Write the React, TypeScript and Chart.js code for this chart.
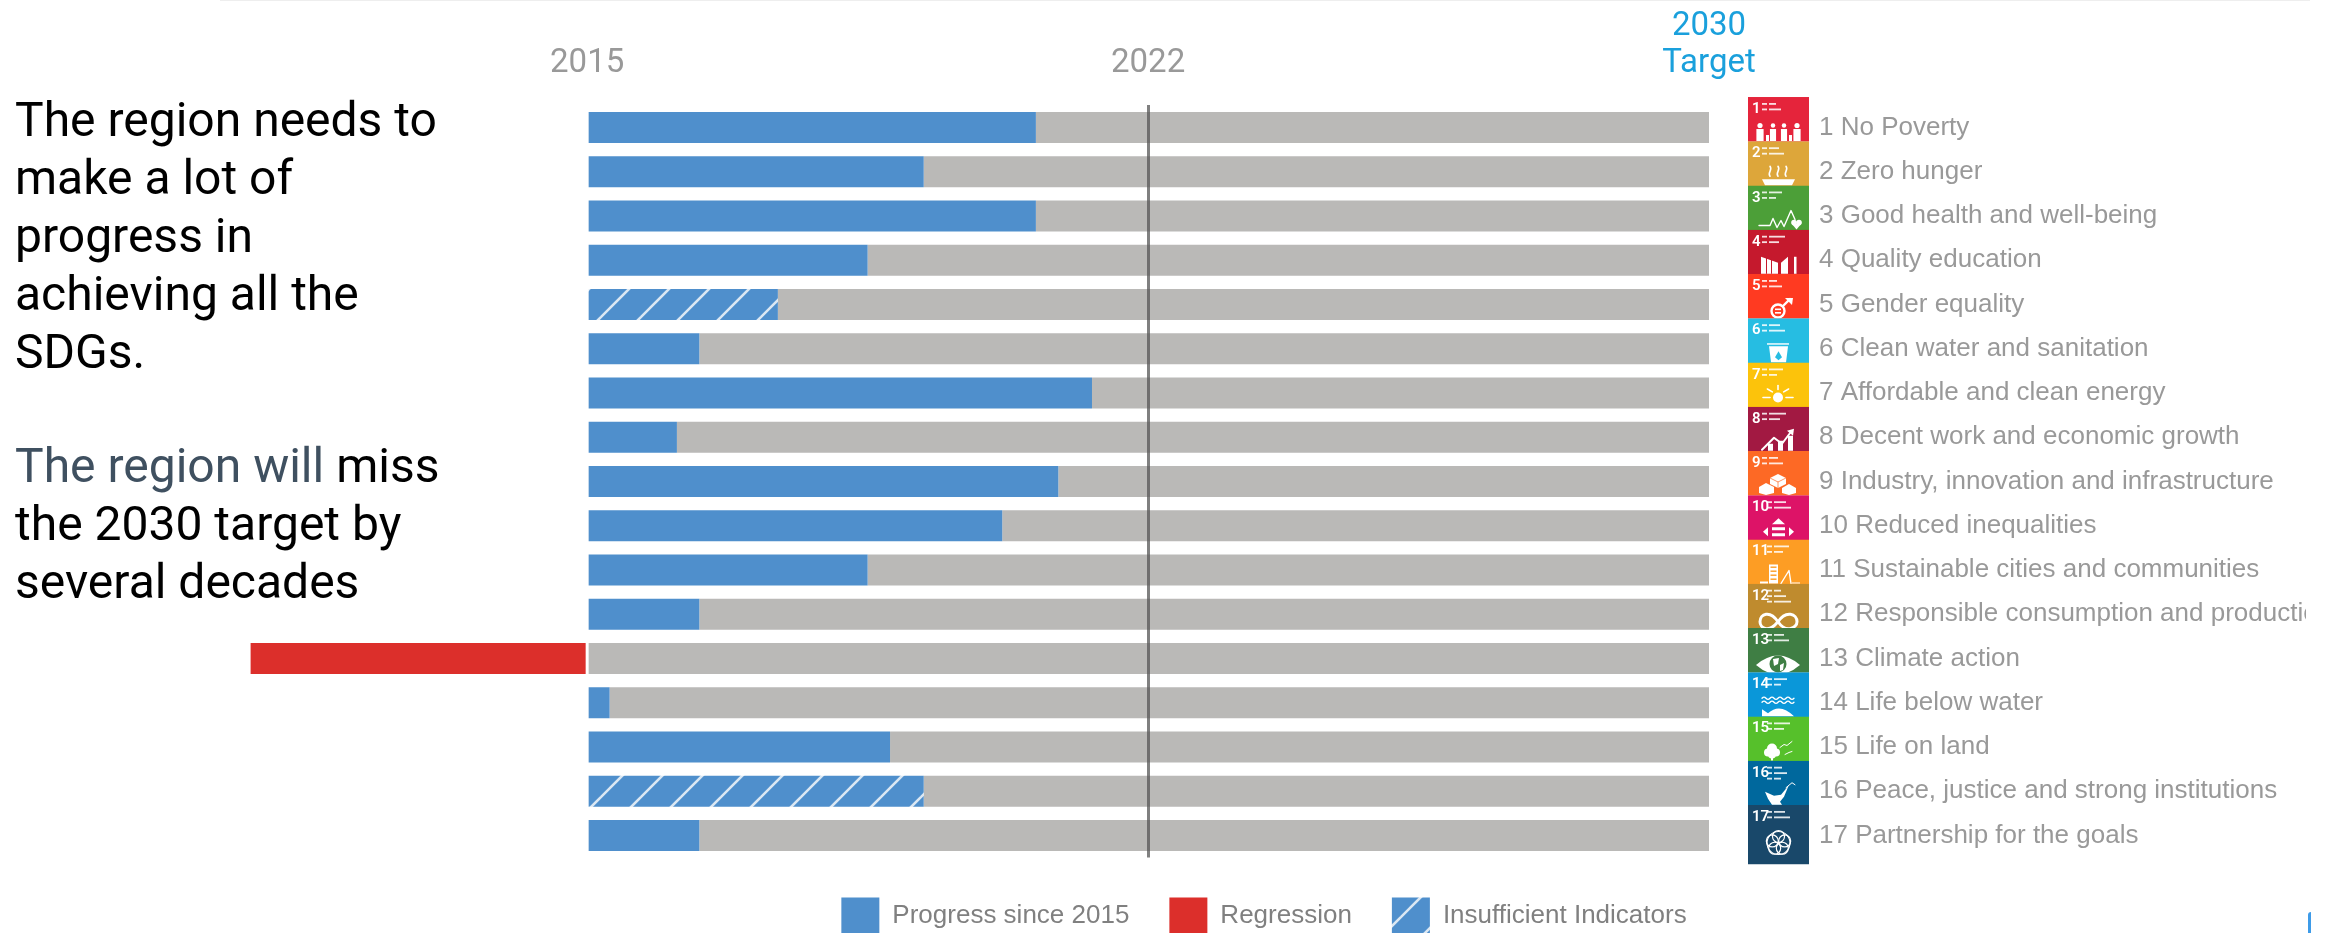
import React, { useEffect, useRef } from "react";
import { Chart, registerables } from "chart.js";

Chart.register(...registerables);

const goals = [
  "1 No Poverty",
  "2 Zero hunger",
  "3 Good health and well-being",
  "4 Quality education",
  "5 Gender equality",
  "6 Clean water and sanitation",
  "7 Affordable and clean energy",
  "8 Decent work and economic growth",
  "9 Industry, innovation and infrastructure",
  "10 Reduced inequalities",
  "11 Sustainable cities and communities",
  "12 Responsible consumption and production",
  "13 Climate action",
  "14 Life below water",
  "15 Life on land",
  "16 Peace, justice and strong institutions",
  "17 Partnership for the goals",
];
const progress = [40, 30, 40, 25, 0, 10, 45, 8, 42, 37, 25, 10, 0, 2, 27, 0, 10];
const regression = [0, 0, 0, 0, 0, 0, 0, 0, 0, 0, 0, 0, -30, 0, 0, 0, 0];
const insufficient = [0, 0, 0, 0, 17, 0, 0, 0, 0, 0, 0, 0, 0, 0, 0, 30, 0];
const remaining = [60, 70, 60, 75, 83, 90, 55, 92, 58, 63, 75, 90, 100, 98, 73, 70, 90];
const tickValues = [0, 50, 100];
const tickLabels: (string | string[])[] = ["2015", "2022", ["2030", "Target"]];
const tileColors = [
  "#E5243B", "#DDA63A", "#4C9F38", "#C5192D", "#FF3A21", "#26BDE2", "#FCC30B", "#A21942", "#FD6925",
  "#DD1367", "#FD9D24", "#BF8B2E", "#3F7E44", "#0A97D9", "#56C02B", "#00689D", "#19486A",
];
const captionRows = [2, 2, 2, 2, 2, 2, 2, 2, 2, 2, 2, 3, 2, 2, 2, 3, 2];

const BLUE = "#4F8FCC";
const RED = "#DC2F2B";
const GREY = "#BAB9B7";

function makeHatch(): CanvasPattern | string {
  const c = document.createElement("canvas");
  c.width = 40;
  c.height = 40;
  const g = c.getContext("2d");
  if (!g) return BLUE;
  g.fillStyle = BLUE;
  g.fillRect(0, 0, 40, 40);
  g.strokeStyle = "#DCE8F3";
  g.lineWidth = 2.6;
  for (const k of [-2, 38, 78]) {
    g.beginPath();
    g.moveTo(k + 10, -10);
    g.lineTo(k - 50, 50);
    g.stroke();
  }
  return g.createPattern(c, "repeat") ?? BLUE;
}

type G = CanvasRenderingContext2D;
function circle(g: G, x: number, y: number, r: number, fill = true) {
  g.beginPath();
  g.arc(x, y, r, 0, Math.PI * 2);
  if (fill) g.fill();
  else g.stroke();
}
function poly(g: G, pts: number[], fill = true) {
  g.beginPath();
  g.moveTo(pts[0], pts[1]);
  for (let i = 2; i < pts.length; i += 2) g.lineTo(pts[i], pts[i + 1]);
  if (fill) {
    g.closePath();
    g.fill();
  } else g.stroke();
}

const glyphs: ((g: G) => void)[] = [
  (g) => {
    for (const [x, s] of [[12, 1], [25, 0.85], [36, 0.85], [49, 1]] as number[][]) {
      circle(g, x, 28.5, 2.6 * s);
      g.fillRect(x - 3.6 * s, 32, 7.2 * s, 12);
    }
    g.fillRect(18, 38, 3, 6);
    g.fillRect(41, 38, 3, 6);
  },
  (g) => {
    poly(g, [14, 38, 47, 38, 44, 44, 17, 44]);
    g.lineWidth = 1.6;
    for (const x of [22, 30, 38]) {
      g.beginPath();
      g.moveTo(x, 35);
      g.bezierCurveTo(x - 3, 31, x + 3, 29, x, 25);
      g.stroke();
    }
  },
  (g) => {
    g.lineWidth = 1.4;
    poly(g, [11, 40, 22, 40, 25, 33, 29, 42, 33, 35, 36, 41, 43, 25, 47, 34], false);
    circle(g, 46, 37, 2.8);
    circle(g, 51, 37, 2.8);
    poly(g, [43.5, 38, 53.5, 38, 48.5, 44]);
  },
  (g) => {
    poly(g, [13, 27, 30, 33, 30, 44, 13, 44]);
    poly(g, [33, 33, 40, 27, 40, 44, 33, 44]);
    g.fillRect(46, 27, 2.5, 17);
    g.fillStyle = tileColors[3];
    g.fillRect(18, 28, 1, 16);
    g.fillRect(23, 30, 1, 14);
  },
  (g) => {
    g.lineWidth = 2.4;
    circle(g, 30, 37, 6.5, false);
    g.fillRect(27, 34.5, 6, 1.6);
    g.fillRect(27, 38, 6, 1.6);
    g.beginPath();
    g.moveTo(35, 32);
    g.lineTo(42, 25);
    g.stroke();
    poly(g, [37, 24, 45, 24, 44, 31]);
  },
  (g) => {
    g.fillRect(19, 25, 22, 1.4);
    poly(g, [21, 28, 40, 28, 38, 44, 23, 44]);
    g.fillStyle = tileColors[5];
    poly(g, [30.5, 33, 34, 39, 30.5, 42, 27, 39]);
  },
  (g) => {
    circle(g, 30, 35, 5);
    g.lineWidth = 1.6;
    for (let a = Math.PI; a <= Math.PI * 2 + 0.01; a += Math.PI / 4) {
      g.beginPath();
      g.moveTo(30 + 8 * Math.cos(a), 35 + 8 * Math.sin(a));
      g.lineTo(30 + 15 * Math.cos(a), 35 + 12 * Math.sin(a));
      g.stroke();
    }
  },
  (g) => {
    g.fillRect(20, 37, 5, 7);
    g.fillRect(30, 34, 5, 10);
    g.fillRect(40, 29, 5, 15);
    g.lineWidth = 2;
    poly(g, [14, 43, 26, 31, 34, 37, 43, 25], false);
    poly(g, [39, 24, 46, 22, 45, 29]);
  },
  (g) => {
    poly(g, [30, 23, 38, 27, 38, 33, 30, 37, 22, 33, 22, 27]);
    poly(g, [18, 32, 26, 36, 26, 42, 18, 44, 11, 42, 11, 36]);
    poly(g, [41, 33, 48, 37, 48, 42, 41, 44, 34, 42, 34, 37]);
    g.lineWidth = 0.7;
    g.strokeStyle = tileColors[8];
    poly(g, [22, 27, 30, 31, 38, 27], false);
    poly(g, [30, 31, 30, 37], false);
  },
  (g) => {
    poly(g, [24, 29, 37, 29, 30.5, 23]);
    poly(g, [15, 36.5, 20, 32, 20, 41]);
    poly(g, [46, 36.5, 41, 32, 41, 41]);
    g.fillRect(24, 32, 13, 3);
    g.fillRect(24, 38, 13, 3);
  },
  (g) => {
    g.fillRect(21, 25, 9, 19);
    g.fillStyle = tileColors[10];
    for (let y = 27; y < 42; y += 4) g.fillRect(22.5, y, 6, 1.4);
    g.fillStyle = "#fff";
    g.fillRect(12, 42, 8, 2);
    g.lineWidth = 1.4;
    poly(g, [33, 44, 41, 31, 43, 44], false);
    g.fillRect(44, 43, 8, 1);
  },
  (g) => {
    g.lineWidth = 3;
    g.beginPath();
    g.moveTo(30, 38);
    g.bezierCurveTo(22, 26, 12, 30, 12, 38);
    g.bezierCurveTo(12, 44, 20, 50, 30, 38);
    g.bezierCurveTo(38, 26, 49, 30, 49, 38);
    g.bezierCurveTo(49, 44, 38, 50, 30, 38);
    g.stroke();
  },
  (g) => {
    g.beginPath();
    g.moveTo(8, 37);
    g.quadraticCurveTo(30, 18, 52, 37);
    g.quadraticCurveTo(30, 56, 8, 37);
    g.fill();
    g.fillStyle = tileColors[12];
    circle(g, 30, 36, 8.5);
    g.fillStyle = "#fff";
    poly(g, [25, 31, 31, 30, 30, 36, 26, 38]);
    poly(g, [32, 37, 36, 35, 35, 42, 32, 43]);
  },
  (g) => {
    g.lineWidth = 1.3;
    for (const y of [26, 30]) {
      g.beginPath();
      g.moveTo(14, y);
      for (let x = 14; x < 46; x += 4) g.quadraticCurveTo(x + 2, y - 2.4 * (x % 8 === 6 ? 1 : -1), x + 4, y);
      g.stroke();
    }
    g.beginPath();
    g.moveTo(14, 37);
    g.lineTo(20, 41);
    g.quadraticCurveTo(32, 30, 46, 44);
    g.lineTo(14, 44);
    g.fill();
  },
  (g) => {
    circle(g, 24, 32, 5);
    circle(g, 20, 36, 4);
    circle(g, 28, 36, 4);
    circle(g, 24, 38, 4);
    g.fillRect(23, 40, 2, 4);
    g.lineWidth = 1;
    poly(g, [32, 31, 36, 28, 39, 29, 44, 25], false);
    poly(g, [37, 38, 41, 36, 44, 35], false);
  },
  (g) => {
    poly(g, [17, 31, 26, 35, 33, 34, 38, 28, 41, 24, 36, 36, 32, 41, 34, 44, 24, 44, 20, 38]);
    g.lineWidth = 1;
    poly(g, [38, 27, 44, 22, 47, 24], false);
  },
  (g) => {
    g.lineWidth = 1.2;
    for (let i = 0; i < 5; i++) {
      const a = -Math.PI / 2 + (i * 2 * Math.PI) / 5;
      circle(g, 30.5 + 6.5 * Math.cos(a), 38 + 6.5 * Math.sin(a), 6, false);
    }
    circle(g, 30.5, 38, 11.5, false);
  },
];

const tilesPlugin = {
  id: "sdgTiles",
  afterDraw(chart: Chart) {
    const g = chart.ctx;
    const y = chart.scales.y;
    const left = chart.chartArea.right + 39;
    const width = 61;
    const step = y.getPixelForValue(1) - y.getPixelForValue(0);
    const last = goals.length - 1;
    goals.forEach((name, i) => {
      const top = y.getPixelForValue(i) - 30.5;
      const h = i === last ? 59.5 : step + 0.5;
      g.save();
      g.beginPath();
      g.rect(left, top, width, h);
      g.clip();
      g.translate(left, top);
      g.fillStyle = tileColors[i];
      g.fillRect(0, 0, width, h);
      g.fillStyle = "#fff";
      g.strokeStyle = "#fff";
      g.lineCap = "round";
      g.lineJoin = "round";
      g.font = '600 15px "Liberation Sans Narrow", "Roboto", sans-serif';
      g.textBaseline = "alphabetic";
      const number = name.split(" ")[0];
      g.fillText(number, 4, 16);
      const cx = number.length > 1 ? 19 : 14;
      g.globalAlpha = 0.85;
      for (let r = 0; r < captionRows[i]; r++) {
        g.fillRect(cx, 6 + r * 5.5, 5, 1.8);
        g.fillRect(cx + 7, 6 + r * 5.5, 7 + ((i * 3 + r * 5) % 11), 1.8);
      }
      g.globalAlpha = 1;
      glyphs[i](g);
      g.restore();
    });
  },
};

const textColumn = [
  ["The region needs to"],
  ["make a lot of"],
  ["progress in"],
  ["achieving all the"],
  ["SDGs."],
  [" "],
  ["The region will", " miss"],
  ["the 2030 target by"],
  ["several decades"],
];

export default function App() {
  const ref = useRef<HTMLCanvasElement>(null);
  useEffect(() => {
    document.body.style.margin = "0";
    const canvas = ref.current;
    if (!canvas) return;
    const chart = new Chart(canvas, {
      type: "bar",
      plugins: [tilesPlugin],
      data: {
        labels: goals,
        datasets: [
          { label: "Progress since 2015", data: progress, backgroundColor: BLUE, barThickness: 31, inflateAmount: 0 },
          { label: "Regression", data: regression, backgroundColor: RED, barThickness: 31, inflateAmount: 0 },
          { label: "Insufficient Indicators", data: insufficient, backgroundColor: makeHatch(), barThickness: 31, inflateAmount: 0 },
          { label: "Remaining", data: remaining, backgroundColor: GREY, barThickness: 31, inflateAmount: 0 },
        ],
      },
      options: {
        indexAxis: "y",
        animation: false,
        responsive: false,
        devicePixelRatio: 1,
        layout: { padding: { left: 222, right: 30, top: 0, bottom: 0 } },
        plugins: {
          tooltip: { enabled: false },
          legend: {
            position: "bottom",
            maxHeight: 75.4,
            labels: {
              boxWidth: 38,
              boxHeight: 37,
              padding: 40,
              color: "#808080",
              font: { family: '"Liberation Sans", Arial, sans-serif', size: 26 },
              filter: (item: any) => item.text !== "Remaining",
            },
          },
        },
        scales: {
          x: {
            type: "linear",
            position: "top",
            stacked: true,
            min: -32.55,
            max: 100,
            afterBuildTicks: (axis: any) => {
              axis.ticks = tickValues.map((value) => ({ value }));
            },
            afterFit: (axis: any) => {
              axis.height = 105.4;
            },
            border: { display: false },
            grid: {
              z: 1,
              drawTicks: false,
              lineWidth: 3,
              color: (ctx: any) => (ctx.tick && ctx.tick.value === 50 ? "rgba(85,85,85,0.75)" : "rgba(0,0,0,0)"),
            },
            ticks: {
              autoSkip: false,
              maxRotation: 0,
              padding: 23,
              font: { family: "Roboto", size: 33, lineHeight: 1.12 },
              color: (ctx: any) => (ctx.tick && ctx.tick.value === 100 ? "#1AA0DC" : "#999999"),
              callback: (value: any) => tickLabels[tickValues.indexOf(value)],
            },
          },
          y: {
            type: "category",
            position: "right",
            stacked: true,
            afterFit: (axis: any) => {
              axis.width = 597;
            },
            border: { display: false },
            grid: { display: false, drawTicks: true, tickLength: 110 },
            ticks: {
              autoSkip: false,
              padding: 0,
              color: "#999999",
              font: { family: '"Liberation Sans", Arial, sans-serif', size: 26 },
            },
          },
        },
      },
    } as any);
    return () => chart.destroy();
  }, []);
  return (
    <div style={{ position: "fixed", left: 0, top: 0, width: 2336, height: 933, overflow: "hidden", background: "#fff" }}>
      <canvas ref={ref} width={2336} height={933} style={{ display: "block", width: 2336, height: 933 }} />
      <div style={{ position: "absolute", left: 220, right: 26, top: 0, height: 1, background: "#EEEEEE" }} />
      <div style={{ position: "absolute", left: 2308, top: 912, width: 3, height: 21, background: "#3E9BE8", borderTopLeftRadius: 3 }} />
      <div
        style={{
          position: "absolute",
          left: 15,
          top: 88.6,
          font: '48px/58px Roboto, sans-serif',
          whiteSpace: "pre",
          color: "#000",
        }}
      >
        {textColumn.map((line, i) => (
          <div key={i} style={{ position: "relative", top: i < 5 ? 2 : 0 }}>
            {line.length > 1 ? (
              <>
                <span style={{ color: "#3F5060" }}>{line[0]}</span>
                {line[1]}
              </>
            ) : (
              line[0]
            )}
          </div>
        ))}
      </div>
    </div>
  );
}
